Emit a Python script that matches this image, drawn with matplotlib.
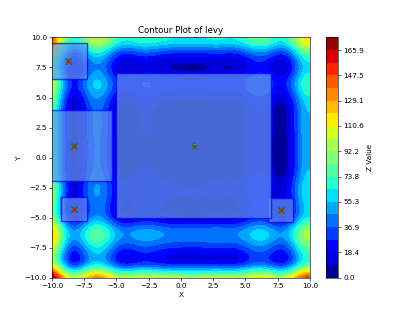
import numpy as np
import matplotlib
matplotlib.use("Agg")
import matplotlib.pyplot as plt
from matplotlib.patches import Rectangle

# rango del dominio
x_lim = [-10, 10]
y_lim = [-10, 10]
n_grid = 100
n_levels = 20

# centros de las regiones y su semiancho
centros_x = [-8.78, -8.29, -8.29, 7.72, 1.0]
centros_y = [8.03, 0.97, -4.30, -4.36, 1.0]
semiancho = [1.5, 2.95, 1.0, 1.0, 6.0]

# minimo global
min_x = [1.0]
min_y = [1.0]


def levy(x, y):
    w1 = 1 + (x - 1) / 4
    w2 = 1 + (y - 1) / 4
    z = np.sin(np.pi * w1) ** 2
    for w in (w1, w2):
        z = z + (w - 1) ** 2 * (1 + 10 * np.sin(np.pi * w + 1) ** 2)
    z = z + (w2 - 1) ** 2 * (1 + np.sin(2 * np.pi * w2) ** 2)
    return z


xs = np.linspace(x_lim[0], x_lim[1], n_grid)
ys = np.linspace(y_lim[0], y_lim[1], n_grid)
X, Y = np.meshgrid(xs, ys)
Z = levy(X, Y)
niveles = np.linspace(Z.min(), Z.max(), n_levels)

fig = plt.figure(figsize=(8, 6), dpi=52)
cs = plt.contourf(X, Y, Z, levels=niveles, cmap="jet")
cb = plt.colorbar(cs)
cb.set_label("Z Value")

ax = plt.gca()
for cx, cy, h in zip(centros_x, centros_y, semiancho):
    ax.add_patch(Rectangle((cx - h, cy - h), 2 * h, 2 * h, facecolor="cornflowerblue",
                           edgecolor="blue", linewidth=2, alpha=0.7))

plt.plot(centros_x[:-1], centros_y[:-1], "x", color="green", markersize=7, markeredgewidth=2)
plt.plot(centros_x[:-1], centros_y[:-1], "o", color="red", markersize=4)
plt.plot(min_x, min_y, "*", color="lightblue", markeredgecolor="green", markersize=10)
plt.plot(min_x, min_y, "o", color="red", markersize=3)

plt.xlim(x_lim)
plt.ylim(y_lim)
plt.title("Contour Plot of levy")
plt.xlabel("X")
plt.ylabel("Y")
plt.savefig("out.png")
